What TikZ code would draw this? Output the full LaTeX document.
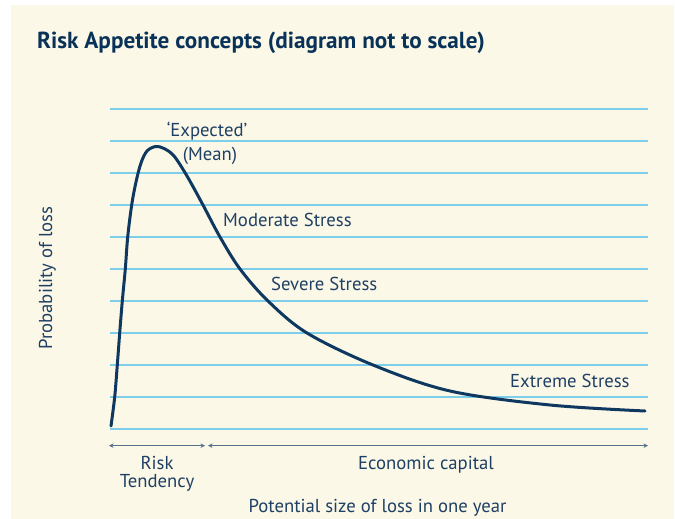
\documentclass[tikz,border=0pt]{standalone}
\usepackage{fontspec}
\setmainfont{PT Sans}
\usetikzlibrary{arrows.meta}
\definecolor{cream}{RGB}{252,248,231}
\definecolor{gridblue}{RGB}{125,206,234}
\definecolor{navy}{RGB}{14,56,96}
\definecolor{textnavy}{RGB}{30,64,100}
\definecolor{titlenavy}{RGB}{8,50,88}
\definecolor{arrowgray}{RGB}{85,112,135}
\tikzset{
  lbl/.style={text=textnavy, font=\fontsize{18.7}{21}\selectfont, inner sep=0pt, anchor=base west},
  gridline/.style={draw=gridblue, line width=2pt},
  rangearrow/.style={draw=arrowgray, line width=1.2pt, {Stealth[length=4.5pt,width=4.5pt]}-{Stealth[length=4.5pt,width=4.5pt]}},
}
\begin{document}
\begin{tikzpicture}[x=1pt,y=-1pt]
\useasboundingbox (0,0) rectangle (675,519);
\fill[white] (0,0) rectangle (675,519);
\fill[cream] (11,5) rectangle (674,519);
% title
\node[text=titlenavy, font=\bfseries\fontsize{23.2}{26}\selectfont, inner sep=0pt, anchor=base west] (title) at (37,49) {Risk Appetite concepts (diagram not to scale)};
% grid lines
\foreach \i in {0,...,10}{
  \draw[gridline] (110,109+32*\i) -- (648,109+32*\i);
}
% curve
\draw[navy, line width=3pt, line cap=round] plot[smooth, tension=0.55] coordinates{
 (111,426) (114.7,397) (117.3,365) (119.7,333) (122.3,301) (125.3,269) (127.7,237) (131.7,205) (136,182) (141,163) (147,151) (155.7,146.5) (164,148.5) (174,156) (187,176) (203,205) (220,237) (240,269) (268,301) (307,333) (373,365) (450,391) (550,405) (645,411)};
% labels
\node[lbl, anchor=base] (exp) at (207,136.7) {‘Expected’};
\node[lbl, anchor=base] (mean) at (210,160) {(Mean)};
\node[lbl] (mod) at (223,226) {Moderate Stress};
\node[lbl] (sev) at (271,290) {Severe Stress};
\node[lbl] (ext) at (510,387.3) {Extreme Stress};
% range arrows
\coordinate (a0) at (109,445.7);
\coordinate (a1) at (205,445.7);
\coordinate (b0) at (208,445.7);
\coordinate (b1) at (648,445.7);
\draw[rangearrow] (a0) -- (a1);
\draw[rangearrow] (b0) -- (b1);
\node[lbl, anchor=base] (risk) at (157,469) {Risk};
\node[lbl, anchor=base] (tend) at (157,487.3) {Tendency};
\node[lbl, anchor=base] (econ) at (426,469) {Economic capital};
\node[lbl, anchor=base] (xlab) at (377.5,512.7) {Potential size of loss in one year};
\node[lbl, anchor=base, rotate=90] (ylab) at (52,278) {Probability of loss};
\end{tikzpicture}
\end{document}
